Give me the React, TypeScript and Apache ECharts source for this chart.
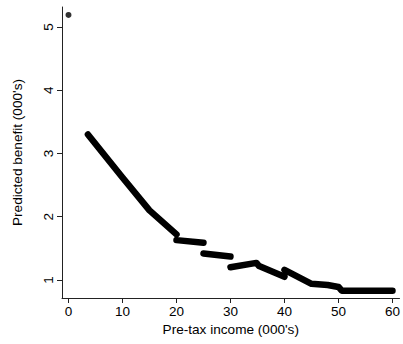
import React, { useEffect, useRef } from "react";
import * as echarts from "echarts";

// Pre-tax income (000's) and predicted benefit (000's)
const singleIncome = [0];
const singleBenefit = [5.19];

const seg1Income = [3.6, 10, 15, 20];
const seg1Benefit = [3.3, 2.62, 2.1, 1.72];

const seg2Income = [20, 25];
const seg2Benefit = [1.63, 1.59];

const seg3Income = [25, 30];
const seg3Benefit = [1.42, 1.37];

const seg4Income = [30, 34.8, 35.3, 40];
const seg4Benefit = [1.2, 1.27, 1.22, 1.05];

const seg5Income = [40, 45, 48, 50, 50.6, 60];
const seg5Benefit = [1.16, 0.94, 0.92, 0.89, 0.83, 0.83];

const xTicks = [0, 10, 20, 30, 40, 50, 60];
const yTicks = [1, 2, 3, 4, 5];

const segments = [
  [seg1Income, seg1Benefit],
  [seg2Income, seg2Benefit],
  [seg3Income, seg3Benefit],
  [seg4Income, seg4Benefit],
  [seg5Income, seg5Benefit],
];

export default function App() {
  const ref = useRef<HTMLDivElement>(null);
  useEffect(() => {
    if (!ref.current) return;
    const chart = echarts.init(ref.current, undefined, { renderer: "svg" });
    const lineData: any[] = [];
    segments.forEach(([xs, ys], si) => {
      if (si > 0) lineData.push([null, null]);
      xs.forEach((x, i) => lineData.push([x, ys[i]]));
    });
    const font = "'Liberation Sans', Arial, sans-serif";
    chart.setOption({
      animation: false,
      backgroundColor: "#fff",
      grid: { left: 62, right: 2, top: 7, bottom: 46, containLabel: false },
      xAxis: {
        type: "value",
        min: -1.2,
        max: 61.3,
        name: "Pre-tax income (000's)",
        nameLocation: "middle",
        nameGap: 21,
        nameTextStyle: { color: "#000", fontSize: 13.6, fontFamily: font },
        splitLine: { show: false },
        axisLine: { show: true, onZero: false, lineStyle: { color: "#222", width: 1 } },
        axisTick: { show: true, length: 5, lineStyle: { color: "#222" }, customValues: xTicks },
        axisLabel: { color: "#000", fontSize: 13.5, fontFamily: font, margin: 6, customValues: xTicks },
      },
      yAxis: {
        type: "value",
        min: 0.715,
        max: 5.316,
        name: "Predicted benefit (000's)",
        nameLocation: "middle",
        nameGap: 38,
        nameTextStyle: { color: "#000", fontSize: 13.6, fontFamily: font },
        splitLine: { show: false },
        axisLine: { show: true, onZero: false, lineStyle: { color: "#222", width: 1 } },
        axisTick: { show: true, length: 5, lineStyle: { color: "#222" }, customValues: yTicks },
        axisLabel: { color: "#000", fontSize: 13.5, fontFamily: font, margin: 7, rotate: 90, customValues: yTicks },
      },
      series: [
        {
          type: "line",
          data: lineData,
          showSymbol: false,
          connectNulls: false,
          lineStyle: { color: "#000", width: 6.5, cap: "round", join: "round" },
          itemStyle: { color: "#000" },
        },
        {
          type: "scatter",
          data: singleIncome.map((x, i) => [x, singleBenefit[i]]),
          symbolSize: 6,
          itemStyle: { color: "#000" },
        },
      ],
    });
    return () => chart.dispose();
  }, []);
  return <div ref={ref} style={{ width: 403, height: 344, position: "absolute", left: 0, top: 0 }} />;
}
